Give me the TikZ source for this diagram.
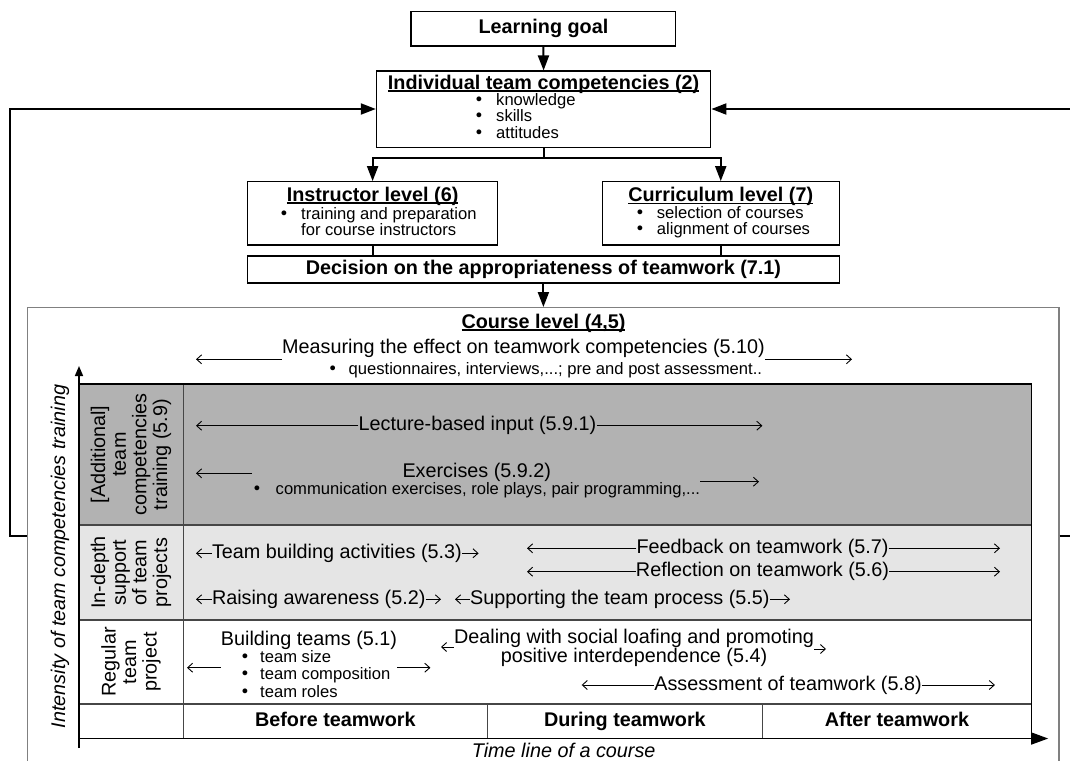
\documentclass[tikz,border=0pt]{standalone}
\usepackage{fontspec}
\setmainfont{Liberation Sans}
\newfontfamily\dejavu{DejaVu Sans}
\usetikzlibrary{arrows.meta}
\definecolor{dgrey}{RGB}{178,178,178}
\definecolor{lgrey}{RGB}{229,229,229}
\definecolor{cgrey}{RGB}{128,128,128}
\definecolor{sepgrey}{RGB}{70,70,70}
\newcommand\fmain{\fontsize{19.8}{20.6}\selectfont}
\newcommand\fsmall{\fontsize{16.6}{16}\selectfont}
\newcommand\myul[1]{\setbox0\hbox{#1}\rlap{\rule[-2.4pt]{\wd0}{1.3pt}}\box0}
\newcommand\bul{{\dejavu •}}
\begin{document}
\begin{tikzpicture}[x=1pt,y=-1pt,
  box/.style={draw=black,line width=1.2pt,inner sep=0pt},
  txt/.style={inner sep=0pt,font=\fmain,text height=14.3pt,text depth=4pt},
  btxt/.style={inner sep=0pt,font=\fmain\bfseries,text height=14.3pt,text depth=4pt},
  stxt/.style={inner sep=0pt,font=\fsmall,text height=12pt,text depth=3.4pt},
  rlab/.style={inner sep=0pt,font=\fmain,align=center,rotate=90},
  conn/.style={line width=2pt},
  carr/.style={conn,-{Triangle[length=15pt,width=11pt]}},
  tarr/.style={line width=0.9pt,-{Straight Barb[length=5pt,width=9pt]}},
  sep/.style={draw=sepgrey,line width=1.2pt},
  axis/.style={line width=1.6pt}
]
\useasboundingbox (0,0) rectangle (1070,760);
\clip (0,0) rectangle (1070,760);

% ---------- top boxes ----------
\node[box,font=\fmain\bfseries,minimum width=264.7pt,minimum height=34.3pt] (lg) at (543.4,28.9) {Learning goal};

\node[box,minimum width=334.4pt,minimum height=76.3pt] (ind) at (543.6,109.2) {};
\node[btxt] (indt) at (543.6,84) {\myul{Individual team competencies (2)}};
\node[stxt,anchor=west] (ind1) at (474,100.7) {\makebox[22pt][l]{\bul}knowledge};
\node[stxt,anchor=west] (ind2) at (474,117) {\makebox[22pt][l]{\bul}skills};
\node[stxt,anchor=west] (ind3) at (474,134) {\makebox[22pt][l]{\bul}attitudes};

\node[box,minimum width=250pt,minimum height=63.3pt] (instr) at (372.6,213.35) {};
\node[btxt] (instrt) at (372.6,196) {\myul{Instructor level (6)}};
\node[stxt,anchor=west] (instr1) at (279,215) {\makebox[22pt][l]{\bul}training and preparation};
\node[stxt,anchor=west] (instr2) at (301,231) {for course instructors};

\node[box,minimum width=236.9pt,minimum height=63.3pt] (curr) at (720.75,213.35) {};
\node[btxt] (currt) at (720.75,196.5) {\myul{Curriculum level (7)}};
\node[stxt,anchor=west] (curr1) at (635,214.5) {\makebox[21.7pt][l]{\bul}selection of courses};
\node[stxt,anchor=west] (curr2) at (635,230.5) {\makebox[21.7pt][l]{\bul}alignment of courses};

\node[box,font=\fmain\bfseries,minimum width=591.6pt,minimum height=27pt] (dec) at (543.4,269.5) {Decision on the appropriateness of teamwork (7.1)};

% ---------- course box ----------
\node[draw=cgrey,line width=1.3pt,inner sep=0pt,minimum width=1031.5pt,minimum height=470pt] (course) at (543.25,542.7) {};

% connectors
\coordinate (sp) at (543.6,157.7);
\draw[carr] (lg.south) -- (ind.north);
\draw[conn] (ind.south) -- (sp);
\draw[carr] (sp) -| (instr.north);
\draw[carr] (sp) -| (curr.north);
\draw[conn] (instr.south) -- (instr.south |- dec.north);
\draw[conn] (curr.south) -- (curr.south |- dec.north);
\draw[carr] (dec.south) -- (dec.south |- course.north);

% feedback loops
\coordinate (fbLa) at (10,536);
\coordinate (fbLb) at (10,109);
\coordinate (fbRa) at (1074,536);
\coordinate (fbRb) at (1074,109);
\draw[carr] (course.west |- fbLa) -- (fbLa) -- (fbLb) -- (ind.west |- fbLb);
\draw[carr] (course.east |- fbRa) -- (fbRa) -- (fbRb) -- (ind.east |- fbRb);

\node[btxt] (ct) at (543.5,323) {\myul{Course level (4,5)}};

% measuring
\node[txt] (meas) at (523.5,348.3) {Measuring the effect on teamwork competencies (5.10)};
\node[stxt,anchor=west] (meass) at (327.6,370) {\makebox[20.9pt][l]{\bul}questionnaires, interviews,...; pre and post assessment..};
\coordinate (measL) at (196,359.3);
\coordinate (measR) at (852,359.3);
\draw[tarr] (meas.west |- measL) -- (measL);
\draw[tarr] (meas.east |- measR) -- (measR);

% ---------- table ----------
\fill[dgrey] (79,384) rectangle (1031.7,525);
\fill[lgrey] (79,525) rectangle (1031.7,620);
\draw[sep] (79,525) -- (1031.7,525);
\draw[sep] (79,620) -- (1031.7,620);
\draw[sep] (79,704) -- (1031.7,704);
\draw[sep] (183.5,384) -- (183.5,738.5);
\draw[sep] (487.3,704) -- (487.3,738.5);
\draw[sep] (762.4,704) -- (762.4,738.5);
\draw[line width=1.3pt] (79,384) -- (1031.7,384) -- (1031.7,738.5);

% axes
\coordinate (vaxB) at (79,748);
\coordinate (vaxT) at (79,366);
\coordinate (haxL) at (79,738.5);
\coordinate (haxR) at (1048.2,738.5);
\draw[axis,-{Triangle[length=10pt,width=8pt]}] (vaxB) -- (vaxT);
\draw[axis,-{Triangle[length=17pt,width=12pt]}] (haxL) -- (haxR);
\node[inner sep=0pt,font=\fmain\itshape] (tl) at (563.7,750.5) {Time line of a course};
\node[inner sep=0pt,font=\fmain\itshape,rotate=90] (inten) at (60,556.5) {Intensity of team competencies training};

% row labels
\node[rlab] (r1) at (131,454.5) {[Additional]\\team\\competencies\\training (5.9)};
\node[rlab] (r2) at (131,572.5) {In-depth\\support\\of team\\projects};
\node[rlab] (r3) at (131,662) {Regular\\team\\project};

% dark grey row
\node[txt] (lec) at (477.5,425) {Lecture-based input (5.9.1)};
\coordinate (lecL) at (196,425.7);
\coordinate (lecR) at (762.4,425.7);
\draw[tarr] (lec.west |- lecL) -- (lecL);
\draw[tarr] (lec.east |- lecR) -- (lecR);

\node[txt] (ex) at (476.8,472.3) {Exercises (5.9.2)};
\node[stxt,anchor=west] (exs) at (252,490) {\makebox[23.5pt][l]{\bul}communication exercises, role plays, pair programming,...};
\coordinate (exL) at (196,473.3);
\coordinate (exR) at (759,481.7);
\draw[tarr] (exs.west |- exL) -- (exL);
\draw[tarr] (exs.east |- exR) -- (exR);

% light grey row
\node[txt,anchor=west] (tb) at (211.8,553.3) {Team building activities (5.3)};
\coordinate (tbL) at (196,553.3);
\coordinate (tbR) at (478.6,553.3);
\draw[tarr] (tb.west) -- (tbL);
\draw[tarr] (tb.east) -- (tbR);

\node[txt] (fbk) at (762.5,548.3) {Feedback on teamwork (5.7)};
\coordinate (fbkL) at (527,548.3);
\coordinate (fbkR) at (1000,548.3);
\draw[tarr] (fbk.west) -- (fbkL);
\draw[tarr] (fbk.east) -- (fbkR);

\node[txt] (rf) at (762.5,571.7) {Reflection on teamwork (5.6)};
\coordinate (rfL) at (527,571.7);
\coordinate (rfR) at (1000,571.7);
\draw[tarr] (rf.west) -- (rfL);
\draw[tarr] (rf.east) -- (rfR);

\node[txt,anchor=west] (ra) at (211.8,599.3) {Raising awareness (5.2)};
\coordinate (raL) at (196,599.3);
\coordinate (raR) at (441,599.3);
\draw[tarr] (ra.west) -- (raL);
\draw[tarr] (ra.east) -- (raR);

\node[txt,anchor=west] (sup) at (470,599.3) {Supporting the team process (5.5)};
\coordinate (supL) at (455,599.3);
\coordinate (supR) at (790,599.3);
\draw[tarr] (sup.west) -- (supL);
\draw[tarr] (sup.east) -- (supR);

% white row
\node[txt] (bt) at (309,640) {Building teams (5.1)};
\node[stxt,anchor=west] (bt1) at (240,657.7) {\makebox[20pt][l]{\bul}team size};
\node[stxt,anchor=west] (bt2) at (240,675) {\makebox[20pt][l]{\bul}team composition};
\node[stxt,anchor=west] (bt3) at (240,693.3) {\makebox[20pt][l]{\bul}team roles};
\coordinate (btL) at (187,667.7);
\coordinate (btR) at (430.4,667.7);
\draw[tarr] (bt.west |- btL) -- (btL);
\draw[tarr] (bt.east |- btR) -- (btR);

\node[inner sep=0pt,font=\fontsize{19.8}{19}\selectfont,align=center] (dl) at (634,648) {Dealing with social loafing and promoting\\positive interdependence (5.4)};
\coordinate (dlL) at (441,647);
\coordinate (dlR) at (826,649);
\draw[tarr] (dl.west |- dlL) -- (dlL);
\draw[tarr] (dl.east |- dlR) -- (dlR);

\node[txt] (as) at (788,685) {Assessment of teamwork (5.8)};
\coordinate (asL) at (581.7,685);
\coordinate (asR) at (994.9,685);
\draw[tarr] (as.west) -- (asL);
\draw[tarr] (as.east) -- (asR);

% bottom row
\node[btxt] (bf) at (335.4,721) {Before teamwork};
\node[btxt] (dur) at (624.9,721) {During teamwork};
\node[btxt] (aft) at (897,721) {After teamwork};
\end{tikzpicture}
\end{document}
